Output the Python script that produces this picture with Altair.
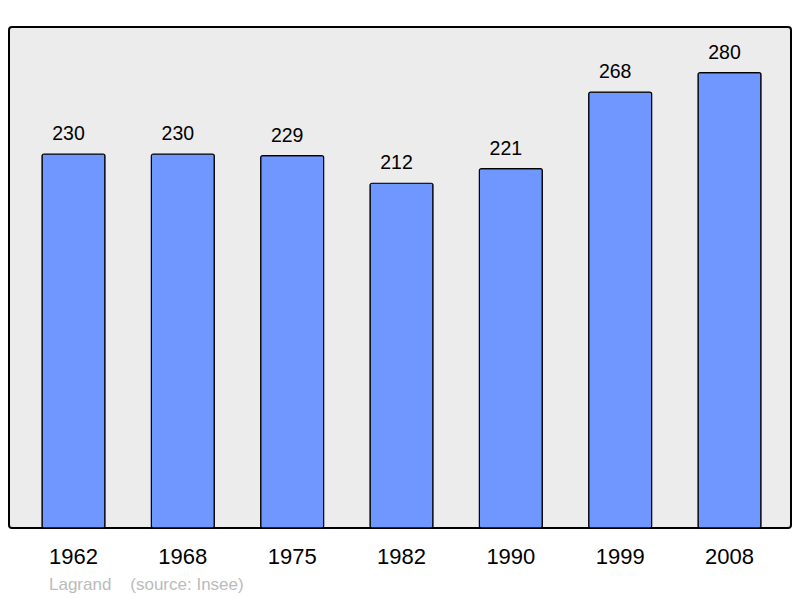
import altair as alt
import pandas as pd

years = ["1962", "1968", "1975", "1982", "1990", "1999", "2008"]
population = [230, 230, 229, 212, 221, 268, 280]

df = pd.DataFrame({"year": years, "pop": population})

FONT = "Liberation Sans"

x = alt.X("year:N", sort=years, title=None,
          scale=alt.Scale(paddingInner=0.4238, paddingOuter=0.288, align=0.524),
          axis=alt.Axis(labelAngle=0, labelFontSize=22, labelFont=FONT,
                        labelColor="black", ticks=False, domain=False,
                        labelPadding=18, grid=False))
y = alt.Y("pop:Q", title=None, scale=alt.Scale(domain=[0, 308.1], nice=False, zero=True),
          axis=None)

bars = alt.Chart(df).mark_bar(
    fill="#7097ff", stroke="black", strokeWidth=1.2, cornerRadius=2
).encode(x=x, y=y)

labels = alt.Chart(df).mark_text(
    font=FONT, fontSize=19.5, color="black", baseline="alphabetic", dy=-14, dx=-5
).encode(x=x, y=y, text="pop:Q")

chart = alt.layer(bars, labels).properties(
    width=782, height=501,
    autosize=alt.AutoSizeParams(type="none"),
    padding={"left": 1, "top": 19, "right": 1, "bottom": 70},
    title=alt.TitleParams(
        text="Lagrand\u00a0\u00a0\u00a0\u00a0(source: Insee)",
        orient="bottom", anchor="start", dx=40, offset=10,
        font=FONT, fontSize=17, fontWeight="normal", color="#bbbbbb",
    ),
).configure_view(
    fill="#ececec", stroke="black", strokeWidth=2, cornerRadius=3
)

chart.save("out.html", embed_options={"renderer": "svg", "actions": False})
